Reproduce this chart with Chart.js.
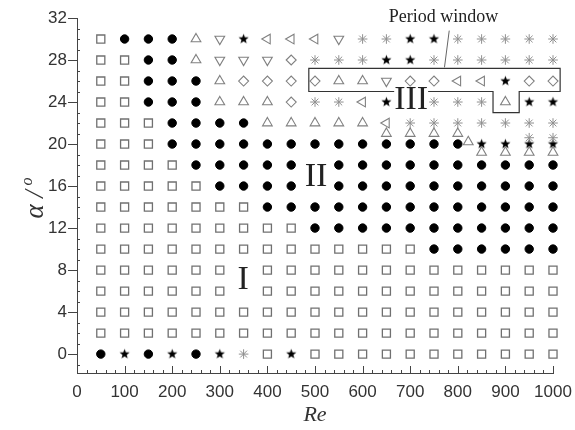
<!DOCTYPE html>
<html>
<head>
<meta charset="utf-8">
<script src="https://cdn.jsdelivr.net/npm/chart.js@4.4.0/dist/chart.umd.min.js"></script>
<style>
  html, body { margin: 0; padding: 0; background: #fff; }
</style>
</head>
<body>
<canvas id="chart" width="575" height="430"></canvas>
<script>
// Reynolds numbers of the grid columns
const reValues = [50, 100, 150, 200, 250, 300, 350, 400, 450, 500, 550, 600, 650, 700, 750, 800, 850, 900, 950, 1000];

// flow regime code for every Re column, one array per angle of attack
// S square, C dot, U up triangle, D down triangle, L left triangle, V diamond, K black star, A asterisk, - no mark
const row30 = ['S','C','C','C','U','D','K','L','L','L','D','A','A','K','K','A','A','A','A','A'];
const row28 = ['S','S','C','C','U','D','D','D','V','A','A','A','K','K','A','A','A','A','A','A'];
const row26 = ['S','S','C','C','C','U','V','V','V','V','U','U','D','V','V','L','L','K','V','V'];
const row24 = ['S','S','C','C','C','U','U','U','V','A','A','L','K','-','A','A','A','U','K','K'];
const row22 = ['S','S','S','C','C','C','C','U','U','U','U','U','L','A','A','A','A','A','A','A'];
const row20 = ['S','S','S','C','C','C','C','C','C','C','C','C','C','C','C','C','K','K','K','K'];
const row18 = ['S','S','S','S','C','C','C','C','C','-','C','C','C','C','C','C','C','C','C','C'];
const row16 = ['S','S','S','S','S','C','C','C','C','-','C','C','C','C','C','C','C','C','C','C'];
const row14 = ['S','S','S','S','S','S','S','C','C','C','C','C','C','C','C','C','C','C','C','C'];
const row12 = ['S','S','S','S','S','S','S','S','S','C','C','C','C','C','C','C','C','C','C','C'];
const row10 = ['S','S','S','S','S','S','S','S','S','S','S','S','S','S','C','C','C','C','C','C'];
const row8  = ['S','S','S','S','S','S','-','S','S','S','S','S','S','S','S','S','S','S','S','S'];
const row6  = ['S','S','S','S','S','S','-','S','S','S','S','S','S','S','S','S','S','S','S','S'];
const row4  = ['S','S','S','S','S','S','S','S','S','S','S','S','S','S','S','S','S','S','S','S'];
const row2  = ['S','S','S','S','S','S','S','S','S','S','S','S','S','S','S','S','S','S','S','S'];
const row0  = ['C','K','C','K','C','K','A','S','K','S','S','S','S','S','S','S','S','S','S','S'];

const alphaValues = [30, 28, 26, 24, 22, 20, 18, 16, 14, 12, 10, 8, 6, 4, 2, 0];
const rows = [row30, row28, row26, row24, row22, row20, row18, row16, row14, row12, row10, row8, row6, row4, row2, row0];

// extra cases computed between the grid angles near the regime border
const extraRe    = [650, 700, 750, 800, 822, 850, 900, 950, 1000, 950, 1000];
const extraAlpha = [21, 21, 21, 21, 20.2, 19.2, 19.2, 19.2, 19.2, 20.6, 20.6];
const extraCode  = ['U','U','U','U','U','U','U','U','U','A','A'];

// tick labels
const xTicks = [0, 100, 200, 300, 400, 500, 600, 700, 800, 900, 1000];
const yTicks = [0, 4, 8, 12, 16, 20, 24, 28, 32];

// filled five point star
function makeStar(r) {
  const c = document.createElement('canvas');
  const s = Math.ceil(r * 2 + 2);
  c.width = s; c.height = s;
  const g = c.getContext('2d');
  g.fillStyle = '#000';
  g.beginPath();
  for (let i = 0; i < 10; i++) {
    const rad = i % 2 === 0 ? r : r * 0.42;
    const a = -Math.PI / 2 + i * Math.PI / 5;
    const px = s / 2 + Math.cos(a) * rad;
    const py = s / 2 + Math.sin(a) * rad;
    if (i === 0) g.moveTo(px, py); else g.lineTo(px, py);
  }
  g.closePath();
  g.fill();
  return c;
}
const starImg = makeStar(5.3);

const styles = {
  S: { pointStyle: 'rect', pointRadius: 5.7, borderColor: '#707070', backgroundColor: 'rgba(0,0,0,0)', pointRotation: 0, borderWidth: 1.3 },
  C: { pointStyle: 'circle', pointRadius: 4.2, borderColor: '#000', backgroundColor: '#000', pointRotation: 0, borderWidth: 1 },
  U: { pointStyle: 'triangle', pointRadius: 5.6, borderColor: '#808080', backgroundColor: 'rgba(0,0,0,0)', pointRotation: 0, borderWidth: 1.1 },
  D: { pointStyle: 'triangle', pointRadius: 5.6, borderColor: '#808080', backgroundColor: 'rgba(0,0,0,0)', pointRotation: 180, borderWidth: 1.1 },
  L: { pointStyle: 'triangle', pointRadius: 5.6, borderColor: '#808080', backgroundColor: 'rgba(0,0,0,0)', pointRotation: -90, borderWidth: 1.1 },
  V: { pointStyle: 'rectRot', pointRadius: 5, borderColor: '#808080', backgroundColor: 'rgba(0,0,0,0)', pointRotation: 0, borderWidth: 1.1 },
  K: { pointStyle: starImg, pointRadius: 5, borderColor: '#000', backgroundColor: '#000', pointRotation: 0, borderWidth: 1 },
  A: { pointStyle: 'star', pointRadius: 4.8, borderColor: '#909090', backgroundColor: 'rgba(0,0,0,0)', pointRotation: 0, borderWidth: 1 }
};

// group points by marker code
const groups = {};
Object.keys(styles).forEach(k => groups[k] = []);
rows.forEach((row, j) => {
  row.forEach((code, i) => {
    if (groups[code]) groups[code].push({ x: reValues[i], y: alphaValues[j] });
  });
});
extraCode.forEach((code, i) => groups[code].push({ x: extraRe[i], y: extraAlpha[i] }));

const order = ['S', 'U', 'D', 'L', 'V', 'A', 'C', 'K'];
const datasets = order.map(k => Object.assign({ label: k, data: groups[k], clip: false, showLine: false }, styles[k]));

const decor = {
  id: 'decor',
  afterDraw(chart) {
    const ctx = chart.ctx;
    const x = chart.scales.x, y = chart.scales.y;
    ctx.save();
    ctx.strokeStyle = '#444';
    ctx.lineWidth = 1;
    ctx.beginPath();
    // x ticks, pointing up into the plot
    for (let v = 0; v <= 1000; v += 20) {
      const px = Math.round(x.getPixelForValue(v)) + 0.5;
      const len = v % 100 === 0 ? 7 : 3;
      ctx.moveTo(px, y.bottom);
      ctx.lineTo(px, y.bottom - len);
    }
    // y ticks: major outside, minor inside
    for (let v = -1; v <= 32; v += 1) {
      const py = Math.round(y.getPixelForValue(v)) + 0.5;
      if (v % 4 === 0 && v >= 0) {
        ctx.moveTo(x.left - 9, py);
        ctx.lineTo(x.left, py);
      } else {
        ctx.moveTo(x.left, py);
        ctx.lineTo(x.left + 3, py);
      }
    }
    ctx.stroke();

    // period window outline
    const box = [[487, 27.2], [1015, 27.2], [1015, 25], [929, 25], [929, 23], [874, 23], [874, 25], [487, 25]];
    ctx.strokeStyle = '#333';
    ctx.lineWidth = 1.2;
    ctx.beginPath();
    box.forEach((p, i) => {
      const px = x.getPixelForValue(p[0]), py = y.getPixelForValue(p[1]);
      if (i === 0) ctx.moveTo(px, py); else ctx.lineTo(px, py);
    });
    ctx.closePath();
    ctx.stroke();

    // pointer from the label to the box
    ctx.strokeStyle = '#666';
    ctx.lineWidth = 1;
    ctx.beginPath();
    ctx.moveTo(x.getPixelForValue(782), y.getPixelForValue(30.8));
    ctx.lineTo(x.getPixelForValue(772), y.getPixelForValue(27.3));
    ctx.stroke();

    ctx.fillStyle = '#222';
    ctx.textAlign = 'center';
    ctx.textBaseline = 'middle';
    ctx.font = '18px "Liberation Serif", serif';
    ctx.fillText('Period window', x.getPixelForValue(770), y.top - 1);

    // regime labels
    ctx.font = '34px "Liberation Serif", serif';
    ctx.fillText('I', x.getPixelForValue(349), y.getPixelForValue(7.0));
    ctx.fillText('II', x.getPixelForValue(502), y.getPixelForValue(16.9));
    const w3 = ctx.measureText('III').width;
    const p3x = x.getPixelForValue(702), p3y = y.getPixelForValue(24.2);
    ctx.fillStyle = '#fff';
    ctx.fillRect(p3x - w3 / 2, p3y - 13, w3, 26);
    ctx.fillStyle = '#222';
    ctx.fillText('III', p3x, p3y);

    // axis titles
    ctx.fillStyle = '#333';
    ctx.font = 'italic 22px "Liberation Serif", serif';
    ctx.fillText('Re', (x.left + x.right) / 2, 415);

    ctx.translate(43, 197);
    ctx.rotate(-Math.PI / 2);
    ctx.textAlign = 'left';
    ctx.textBaseline = 'alphabetic';
    ctx.font = 'italic 27px "Liberation Serif", serif';
    const a = 'α / ';
    const wa = ctx.measureText(a).width;
    ctx.font = 'italic 16px "Liberation Serif", serif';
    const wo = ctx.measureText('o').width;
    const start = -(wa + wo) / 2;
    ctx.font = 'italic 27px "Liberation Serif", serif';
    ctx.fillText(a, start, 0);
    ctx.font = 'italic 16px "Liberation Serif", serif';
    ctx.fillText('o', start + wa - 2, -11);
    ctx.restore();
  }
};

new Chart(document.getElementById('chart'), {
  type: 'scatter',
  data: { datasets: datasets },
  options: {
    responsive: false,
    animation: false,
    events: [],
    layout: { padding: { left: 0, right: 22, top: 18, bottom: 0 } },
    plugins: { legend: { display: false }, tooltip: { enabled: false } },
    scales: {
      x: {
        type: 'linear',
        min: 0,
        max: 1000,
        afterFit: s => { s.height = 57; s.paddingLeft = 0; s.paddingRight = 0; },
        afterBuildTicks: s => { s.ticks = xTicks.map(v => ({ value: v })); },
        grid: { display: false, drawTicks: false },
        border: { display: true, color: '#444', width: 1 },
        ticks: { padding: 9, color: '#333', font: { family: '"Liberation Sans", Arial, sans-serif', size: 17 }, maxRotation: 0, autoSkip: false, callback: v => String(v) }
      },
      y: {
        type: 'linear',
        min: -1.8,
        max: 32,
        afterFit: s => { s.width = 77; s.paddingTop = 0; s.paddingBottom = 0; },
        afterBuildTicks: s => { s.ticks = yTicks.map(v => ({ value: v })); },
        grid: { display: false, drawTicks: false },
        border: { display: true, color: '#444', width: 1 },
        ticks: { padding: 10, color: '#333', font: { family: '"Liberation Sans", Arial, sans-serif', size: 17 }, autoSkip: false, callback: v => String(v) }
      }
    }
  },
  plugins: [decor]
});
</script>
</body>
</html>
